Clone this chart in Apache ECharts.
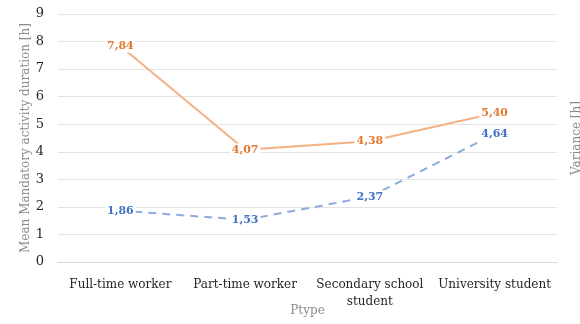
<!DOCTYPE html>
<html>
<head>
<meta charset="utf-8">
<script src="https://cdn.jsdelivr.net/npm/echarts@6/dist/echarts.min.js"></script>
<style>
  html, body { margin: 0; padding: 0; background: #fff; }
  #chart { width: 580px; height: 324px; }
</style>
</head>
<body>
<div id="chart"></div>
<script>
// Person types on the category axis
var categories = ['Full-time worker', 'Part-time worker', 'Secondary school\nstudent', 'University student'];
// Mean mandatory activity duration per person type [h]
var meanDuration = [7.84, 4.07, 4.38, 5.40];
// Variance of mandatory activity duration [h]
var varianceDuration = [1.86, 1.53, 2.37, 4.64];
// Left axis ticks
var yTicks = [0, 1, 2, 3, 4, 5, 6, 7, 8, 9];

var serif = '"DejaVu Serif", "Liberation Serif", serif';

function commaFmt(p) {
  return p.value.toFixed(2).replace('.', ',');
}

var chart = echarts.init(document.getElementById('chart'), null, { renderer: 'canvas' });
chart.setOption({
  animation: false,
  backgroundColor: '#ffffff',
  textStyle: { fontFamily: serif },
  grid: { left: 58, right: 23, top: 14, bottom: 62, containLabel: false, outerBoundsMode: 'none' },
  xAxis: {
    type: 'category',
    data: categories,
    boundaryGap: true,
    name: 'Ptype',
    nameLocation: 'middle',
    nameGap: 43,
    nameMoveOverlap: false,
    nameTextStyle: { color: '#8c8c8c', fontSize: 12, fontFamily: serif },
    axisLine: { lineStyle: { color: '#d9d9d9', width: 1 } },
    axisTick: { show: false },
    axisLabel: { color: '#262626', fontSize: 12, fontFamily: serif, margin: 14, lineHeight: 17, interval: 0 }
  },
  yAxis: [{
    type: 'value',
    min: yTicks[0],
    max: yTicks[yTicks.length - 1],
    interval: 1,
    name: 'Mean Mandatory activity duration [h]',
    nameLocation: 'middle',
    nameGap: 26,
    nameMoveOverlap: false,
    nameTextStyle: { color: '#8c8c8c', fontSize: 12, fontFamily: serif },
    axisLine: { show: false },
    axisTick: { show: false },
    axisLabel: { color: '#262626', fontSize: 13, fontFamily: serif, margin: 14 },
    splitLine: { lineStyle: { color: '#e3e3e3', width: 1 } }
  }, {
    type: 'value',
    min: yTicks[0],
    max: yTicks[yTicks.length - 1],
    interval: 1,
    position: 'right',
    name: 'Variance [h]',
    nameLocation: 'middle',
    nameRotate: 90,
    nameGap: 14,
    nameMoveOverlap: false,
    nameTextStyle: { color: '#8c8c8c', fontSize: 12, fontFamily: serif },
    axisLine: { show: false },
    axisTick: { show: false },
    axisLabel: { show: false },
    splitLine: { show: false }
  }],
  series: [{
    name: 'Mean',
    type: 'line',
    yAxisIndex: 0,
    data: meanDuration,
    symbol: 'circle',
    symbolSize: 0,
    lineStyle: { color: '#f4b183', width: 2 },
    itemStyle: { color: '#f4b183' },
    label: {
      show: true,
      position: 'inside',
      formatter: commaFmt,
      color: '#e07a32',
      fontWeight: 'bold',
      fontSize: 11,
      fontFamily: serif,
      backgroundColor: '#ffffff',
      padding: [1, 2]
    },
    z: 3
  }, {
    name: 'Variance',
    type: 'line',
    yAxisIndex: 1,
    data: varianceDuration,
    symbol: 'circle',
    symbolSize: 0,
    lineStyle: { color: '#8faadc', width: 2, type: [8, 6] },
    itemStyle: { color: '#8faadc' },
    label: {
      show: true,
      position: 'inside',
      formatter: commaFmt,
      color: '#4472c4',
      fontWeight: 'bold',
      fontSize: 11,
      fontFamily: serif,
      backgroundColor: '#ffffff',
      padding: [1, 2]
    },
    z: 3
  }]
});
</script>
</body>
</html>
